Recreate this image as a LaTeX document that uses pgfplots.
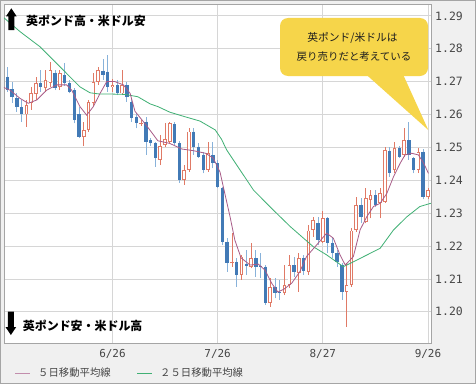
\documentclass[border=0pt]{standalone}
\usepackage{pgfplots}
\pgfplotsset{compat=1.18}
\usepackage{pgfplotstable}
\usepackage{fontspec}
\setmainfont{DejaVu Sans}
\newfontfamily\jp{Noto Sans CJK JP}
\newfontfamily\mono{DejaVu Sans Mono}
\definecolor{bgc}{RGB}{240,240,240}
\definecolor{framec}{RGB}{165,165,165}
\definecolor{axisc}{RGB}{165,165,165}
\definecolor{gridc}{RGB}{214,214,214}
\definecolor{bluebody}{RGB}{66,122,182}
\definecolor{bluewick}{RGB}{136,178,218}
\definecolor{redc}{RGB}{224,122,102}
\definecolor{ma5}{RGB}{168,92,136}
\definecolor{ma25}{RGB}{64,176,116}
\definecolor{callc}{RGB}{246,213,74}
\definecolor{labc}{RGB}{70,70,70}

\pgfplotstableread{
i O H L C
0 1.2715 1.2745 1.2669 1.2674
1 1.2677 1.2699 1.2635 1.2652
2 1.2651 1.2664 1.2608 1.2624
3 1.2622 1.2644 1.2578 1.2601
7 1.2696 1.2735 1.2669 1.2684
10 1.2727 1.2735 1.2674 1.2680
12 1.2720 1.2757 1.2687 1.2695
13 1.2695 1.2705 1.2664 1.2669
14 1.2674 1.2680 1.2573 1.2583
15 1.2600 1.2623 1.2528 1.2532
20 1.2733 1.2768 1.2705 1.2720
21 1.2730 1.2781 1.2669 1.2684
23 1.2690 1.2705 1.2659 1.2664
25 1.2690 1.2700 1.2639 1.2654
26 1.2639 1.2649 1.2578 1.2588
27 1.2593 1.2604 1.2558 1.2573
29 1.2578 1.2593 1.2477 1.2517
30 1.2522 1.2528 1.2504 1.2512
31 1.2512 1.2517 1.2441 1.2467
35 1.2571 1.2577 1.2507 1.2512
36 1.2514 1.2519 1.2392 1.2401
39 1.2548 1.2559 1.2477 1.2502
40 1.2502 1.2513 1.2468 1.2472
41 1.2477 1.2487 1.2421 1.2431
43 1.2477 1.2517 1.2436 1.2452
44 1.2452 1.2462 1.2376 1.2380
45 1.2376 1.2380 1.2203 1.2213
46 1.2213 1.2224 1.2122 1.2148
48 1.2152 1.2163 1.2076 1.2112
50 1.2145 1.2188 1.2112 1.2140
52 1.2163 1.2188 1.2107 1.2137
53 1.2140 1.2178 1.2102 1.2136
54 1.2137 1.2142 1.2021 1.2026
56 1.2076 1.2102 1.2041 1.2056
57 1.2060 1.2097 1.2036 1.2056
60 1.2142 1.2168 1.2107 1.2122
62 1.2163 1.2173 1.2112 1.2125
65 1.2269 1.2289 1.2203 1.2218
67 1.2284 1.2289 1.2178 1.2208
68 1.2208 1.2228 1.2163 1.2178
69 1.2178 1.2188 1.2137 1.2152
70 1.2142 1.2148 1.2036 1.2061
74 1.2325 1.2345 1.2269 1.2289
77 1.2355 1.2370 1.2320 1.2325
80 1.2490 1.2502 1.2411 1.2421
82 1.2497 1.2504 1.2467 1.2472
84 1.2522 1.2578 1.2462 1.2477
85 1.2467 1.2472 1.2421 1.2431
87 1.2487 1.2494 1.2342 1.2348
}\bluecandles

\pgfplotstableread{
i O H L C
4 1.2600 1.2644 1.2563 1.2629
5 1.2634 1.2683 1.2614 1.2664
6 1.2662 1.2715 1.2644 1.2696
8 1.2680 1.2735 1.2669 1.2705
9 1.2695 1.2760 1.2684 1.2735
11 1.2683 1.2735 1.2674 1.2725
16 1.2531 1.2578 1.2504 1.2553
17 1.2553 1.2644 1.2548 1.2639
18 1.2634 1.2725 1.2626 1.2700
19 1.2700 1.2745 1.2690 1.2735
22 1.2683 1.2707 1.2669 1.2690
24 1.2664 1.2735 1.2659 1.2690
28 1.2571 1.2583 1.2566 1.2575
32 1.2462 1.2538 1.2446 1.2504
33 1.2507 1.2573 1.2502 1.2524
34 1.2517 1.2577 1.2513 1.2573
37 1.2401 1.2446 1.2386 1.2431
38 1.2431 1.2558 1.2426 1.2548
42 1.2431 1.2517 1.2426 1.2482
47 1.2147 1.2239 1.2137 1.2150
49 1.2112 1.2173 1.2097 1.2168
51 1.2137 1.2208 1.2132 1.2163
55 1.2026 1.2102 1.2016 1.2076
58 1.2056 1.2142 1.2051 1.2082
59 1.2082 1.2173 1.2072 1.2142
61 1.2117 1.2178 1.2061 1.2163
63 1.2122 1.2264 1.2112 1.2247
64 1.2249 1.2289 1.2228 1.2279
66 1.2213 1.2305 1.2208 1.2284
71 1.2061 1.2148 1.1955 1.2082
72 1.2082 1.2254 1.2076 1.2247
73 1.2249 1.2350 1.2244 1.2325
75 1.2274 1.2376 1.2269 1.2345
76 1.2340 1.2370 1.2284 1.2355
78 1.2330 1.2376 1.2284 1.2360
79 1.2335 1.2502 1.2331 1.2492
81 1.2431 1.2517 1.2421 1.2497
83 1.2477 1.2558 1.2472 1.2522
86 1.2431 1.2498 1.2422 1.2487
88 1.2348 1.2376 1.2343 1.2370
}\redcandles

\begin{document}
\begin{tikzpicture}[x=1bp,y=1bp]
\useasboundingbox (-4,-43) rectangle (472,343);
\fill[white] (-4,-43) rectangle (472,343);
\filldraw[fill=bgc, draw=framec, line width=0.8bp] (-3.6,-40) rectangle (471.4,342.6);

\begin{axis}[
  at={(0,0)}, anchor=south west,
  scale only axis, width=427bp, height=339bp,
  xmin=-0.69, xmax=88.64, ymin=1.1905, ymax=1.2936,
  axis background/.style={fill=white},
  axis line style={draw=axisc, line width=0.8bp},
  xtick={22,44,66,88}, xticklabels={6/26,7/26,8/27,9/26},
  ytick={1.20,1.21,1.22,1.23,1.24,1.25,1.26,1.27,1.28,1.29},
  grid=major, major grid style={draw=gridc, line width=0.7bp},
  major tick length=0pt,
  yticklabel pos=right,
  scaled y ticks=false,
  yticklabel style={font=\mono\fontsize{11.5}{12}\selectfont, text=labc, anchor=west, inner sep=0pt, xshift=4bp,
    /pgf/number format/.cd, fixed, fixed zerofill, precision=2, assume math mode=true},
  xticklabel style={font=\mono\fontsize{11}{12}\selectfont, text=labc, anchor=north, inner sep=0pt, yshift=-6.5bp},
]
% wicks
\addplot[draw=bluewick, line width=0.8bp, quiver={u=0, v=\thisrow{H}-\thisrow{L}}] table[x=i, y=L] {\bluecandles};
\addplot[draw=redc, line width=0.8bp, quiver={u=0, v=\thisrow{H}-\thisrow{L}}] table[x=i, y=L] {\redcandles};
% bodies
\addplot[draw=bluebody, line width=3.4bp, quiver={u=0, v=\thisrow{C}-\thisrow{O}}] table[x=i, y=O] {\bluecandles};
\addplot[draw=redc, line width=3.6bp, quiver={u=0, v=\thisrow{C}-\thisrow{O}}] table[x=i, y=O] {\redcandles};
\addplot[draw=white, line width=1.8bp, quiver={u=0, v={max(\thisrow{C}-\thisrow{O}-0.00055,0)}}] table[x=i, y expr=\thisrow{O}+0.000274] {\redcandles};
% 25-day MA
\addplot[draw=ma25, line width=0.8bp] coordinates {
(-0.7,1.2894) (2.66,1.2852) (6.84,1.2806) (11.03,1.2745) (15.2,1.2684) (17.3,1.2666)
(19.4,1.2662) (22.1,1.2662) (24.6,1.2661) (27.3,1.2654) (29.9,1.2632) (31.5,1.2624)
(34.0,1.2607) (37.2,1.2593) (40.3,1.2580) (43.5,1.2553) (44.8,1.2525) (45.9,1.2492)
(48.7,1.2431) (51.5,1.2370) (55.6,1.2310) (59.2,1.2259) (64.0,1.2198) (66.8,1.2173)
(70.3,1.2137) (72.4,1.2152) (78.0,1.2193) (80.8,1.2249) (83.6,1.2289) (86.3,1.2320) (88.6,1.2330)
};
% 5-day MA
\addplot[draw=ma5, line width=0.8bp] coordinates {
(-0.7,1.2682) (0.56,1.2674) (2.66,1.2649) (4.39,1.2634) (6.15,1.2644) (8.24,1.2674)
(10.33,1.2690) (12.43,1.2690) (13.47,1.2674) (15.2,1.2624) (16.6,1.2598) (18.0,1.2624)
(19.4,1.2664) (20.8,1.2700) (22.5,1.2700) (24.3,1.2690) (25.7,1.2664) (26.7,1.2610)
(29.3,1.2563) (31.5,1.2520) (34.0,1.2512) (36.5,1.2495) (38.9,1.2490) (41.5,1.2482)
(43.1,1.2467) (44.5,1.2425) (45.5,1.2360) (46.6,1.2289) (47.6,1.2218) (48.9,1.2164)
(50.8,1.2142) (52.5,1.2145) (53.9,1.2127) (55.3,1.2087) (56.6,1.2060) (57.9,1.2069)
(59.5,1.2087) (61.2,1.2122) (62.6,1.2168) (64.7,1.2203) (66.8,1.2239) (68.2,1.2224)
(69.6,1.2173) (70.7,1.2142) (72.4,1.2168) (73.8,1.2249) (75.2,1.2289) (76.6,1.2320)
(78.0,1.2330) (79.4,1.2360) (80.8,1.2411) (82.2,1.2452) (83.2,1.2477) (84.6,1.2482)
(86.0,1.2477) (87.1,1.2452) (88.1,1.2421)
};
\end{axis}

% top label with up arrow
\fill[black] (7.35,334.7) -- (12.7,326.7) -- (10.4,326.7) -- (10.4,313) -- (4.3,313) -- (4.3,326.7) -- (2,326.7) -- cycle;
\node[anchor=west, inner sep=0pt, font=\jp\bfseries\fontsize{12}{12}\selectfont] at (22,322.5) {英ポンド高・米ドル安};
% bottom label with down arrow
\fill[black] (6.85,8) -- (12.2,16) -- (9.9,16) -- (9.9,31.3) -- (3.8,31.3) -- (3.8,16) -- (1.5,16) -- cycle;
\node[anchor=west, inner sep=0pt, font=\jp\bfseries\fontsize{12}{12}\selectfont] at (18.7,17) {英ポンド安・米ドル高};

% callout
\fill[callc, rounded corners=8bp] (276,267) rectangle (424,325);
\fill[callc] (362.7,268) -- (424.3,213) -- (399.3,268) -- cycle;
\node[inner sep=0pt, font=\jp\fontsize{10.8}{12}\selectfont, text={rgb,255:red,30;green,30;blue,30}] at (348.5,305) {英ポンド/米ドルは};
\node[inner sep=0pt, font=\jp\fontsize{10.5}{12}\selectfont, text={rgb,255:red,30;green,30;blue,30}] at (350,286.3) {戻り売りだと考えている};

% legend
\draw[ma5!70!white, line width=0.9bp] (11,-30) -- (26,-30);
\node[anchor=west, inner sep=0pt, font=\jp\fontsize{10.4}{12}\selectfont, text=labc] at (34,-30) {５日移動平均線};
\draw[ma25, line width=0.9bp] (133,-30) -- (148,-30);
\node[anchor=west, inner sep=0pt, font=\jp\fontsize{10.4}{12}\selectfont, text=labc] at (156,-30) {２５日移動平均線};
\end{tikzpicture}
\end{document}
